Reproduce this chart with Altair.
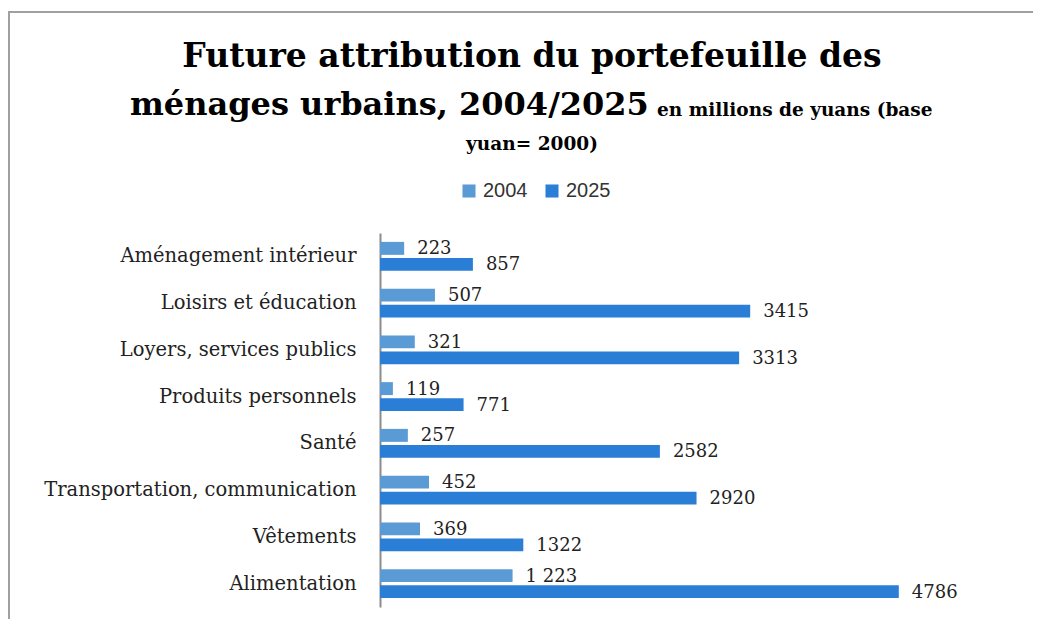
import altair as alt
import pandas as pd

categories = [
    "Aménagement intérieur",
    "Loisirs et éducation",
    "Loyers, services publics",
    "Produits personnels",
    "Santé",
    "Transportation, communication",
    "Vêtements",
    "Alimentation",
]
values_2004 = [223, 507, 321, 119, 257, 452, 369, 1223]
values_2025 = [857, 3415, 3313, 771, 2582, 2920, 1322, 4786]
labels_2004 = ["223", "507", "321", "119", "257", "452", "369", "1 223"]
labels_2025 = ["857", "3415", "3313", "771", "2582", "2920", "1322", "4786"]
years = ["2004", "2025"]
colors = ["#5b9bd5", "#2a7ed6"]

rows = []
for i, c in enumerate(categories):
    rows.append({"cat": c, "year": "2004", "val": values_2004[i], "lab": labels_2004[i]})
    rows.append({"cat": c, "year": "2025", "val": values_2025[i], "lab": labels_2025[i]})
df = pd.DataFrame(rows)

SERIF = "DejaVu Serif"

y_enc = alt.Y("cat:N", sort=categories, title=None,
              scale=alt.Scale(paddingInner=0.38, paddingOuter=0.19),
              axis=alt.Axis(domainColor="#8c8c8c", domainWidth=2, ticks=False,
                            labelFont=SERIF, labelFontSize=19.5, labelColor="#222222",
                            labelPadding=24, labelLimit=400))
yoff = alt.YOffset("year:N", sort=years, scale=alt.Scale(paddingInner=0.19, paddingOuter=0))
x_enc = alt.X("val:Q", scale=alt.Scale(domain=[0, 5000], nice=False), axis=None)

bars = alt.Chart(df).mark_bar().encode(
    y=y_enc, yOffset=yoff, x=x_enc,
    color=alt.Color("year:N", sort=years, scale=alt.Scale(domain=years, range=colors),
                    legend=alt.Legend(title=None, orient="none", direction="horizontal",
                                      legendX=79, legendY=-52, symbolType="square",
                                      symbolSize=170, symbolStrokeWidth=0,
                                      labelFont="Liberation Sans", labelFontSize=20,
                                      labelColor="#333333", columnPadding=14,
                                      labelOffset=4)),
)

texts = alt.Chart(df).mark_text(align="left", baseline="middle", dx=13, dy=1,
                                font=SERIF, fontSize=18, color="#222222").encode(
    y=alt.Y("cat:N", sort=categories), yOffset=yoff, x=x_enc, text="lab:N"
)

def ttl(txt, x, y, size, align="center"):
    return alt.Chart(pd.DataFrame({"t": [txt]})).mark_text(
        font=SERIF, fontSize=size, fontWeight="bold", color="#000000",
        align=align, baseline="alphabetic"
    ).encode(x=alt.value(x), y=alt.value(y), text="t:N")

t1 = ttl("Future attribution du portefeuille des", 152, -166, 33)
t2 = ttl("ménages urbains, 2004/2025", -250, -118, 32, align="left")
t3 = ttl("en millions de yuans (base", 277, -117, 18.5, align="left")
t4 = ttl("yuan= 2000)", 152, -83, 18.5)

border_df = pd.DataFrame({"d": [0]})
top_rule = alt.Chart(border_df).mark_rule(color="#a0a0a0", strokeWidth=2).encode(
    x=alt.value(-372), x2=alt.value(700), y=alt.value(-221))
left_rule = alt.Chart(border_df).mark_rule(color="#a0a0a0", strokeWidth=2).encode(
    x=alt.value(-371), y=alt.value(-221), y2=alt.value(420))

chart = alt.layer(bars, texts, t1, t2, t3, t4, top_rule, left_rule).properties(
    width=542, height=374,
    background="white",
    autosize=alt.AutoSizeParams(type="none"),
    padding={"left": 372, "top": 225, "right": 111, "bottom": 12},
).configure_view(strokeWidth=0, stroke="transparent")

chart.save("out.html", embed_options={"renderer": "svg", "actions": False})
